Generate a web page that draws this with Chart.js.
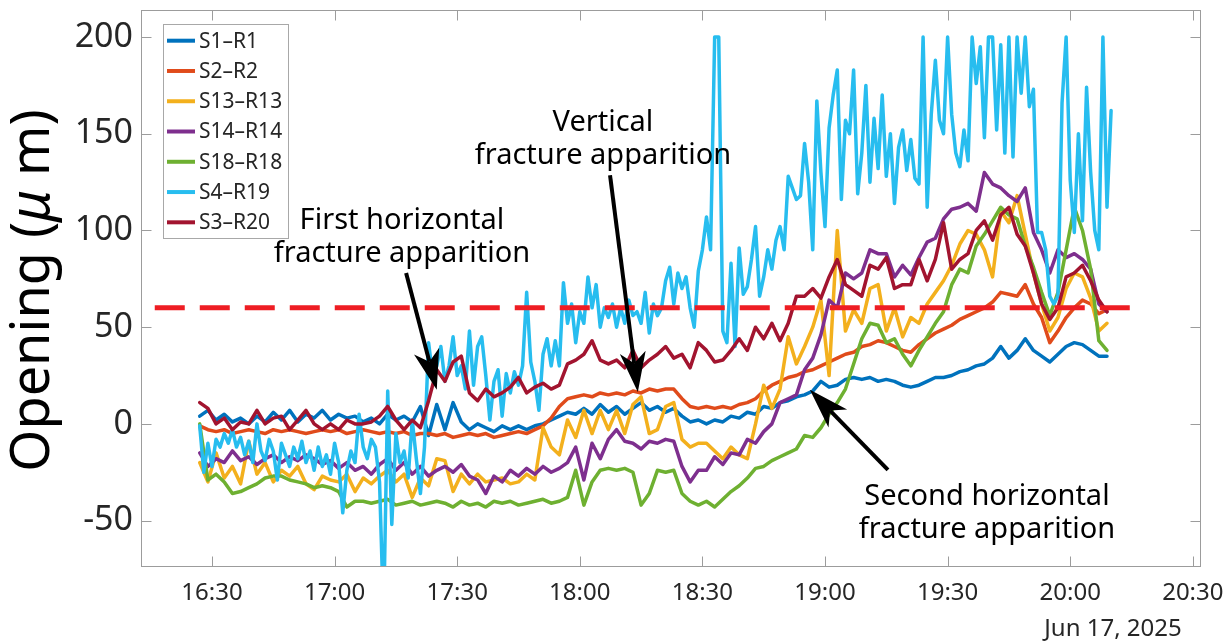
<!DOCTYPE html>
<html lang="en">
<head>
<meta charset="utf-8">
<title>Opening vs time</title>
<script src="https://cdn.jsdelivr.net/npm/chart.js@4.4.1/dist/chart.umd.min.js"></script>
<style>
  html, body { margin: 0; padding: 0; background: #ffffff; }
  #frame { position: relative; width: 1231px; height: 643px; }
</style>
</head>
<body>
<div id="frame"><canvas id="chart"></canvas></div>
<script>
// ---- sampling ---------------------------------------------------------------
const sampleStart = '16:27';   // first logged sample
const slowStepMin = 2;          // S1, S2, S3, S13, S14, S18 pairs
const fastStepMin = 1;          // S4-R19 pair

// ---- axes -------------------------------------------------------------------
const xTickLabels = ['16:30', '17:00', '17:30', '18:00', '18:30', '19:00', '19:30', '20:00', '20:30'];
const xRange = ['16:12:38', '20:32:00'];
const yTickValues = [-50, 0, 50, 100, 150, 200];
const yRange = [-74, 214];
const dateLabel = 'Jun 17, 2025';
const yTitleParts = ['Opening (', '\u03bc', ' m)'];

// ---- threshold --------------------------------------------------------------
const thresholdValue = 60;
const thresholdSpan = ['16:16', '20:15'];

// ---- series -----------------------------------------------------------------
const seriesNames = ['S1\u2013R1', 'S2\u2013R2', 'S13\u2013R13', 'S14\u2013R14', 'S18\u2013R18', 'S4\u2013R19', 'S3\u2013R20'];
const seriesColors = ['#0072BD', '#E04B1B', '#F3B01D', '#7E2F8E', '#6EB031', '#27BDEF', '#A2142F'];

// opening in micrometres, one value every 2 min from 16:27
const s1r1 = [
  4, 7, 2, 5, 1, 3, 0, 4, 1, 6,
  2, 7, 1, 5, 3, 7, 2, 5, 3, 4,
  1, 3, 0, 5, 2, 4, 1, 9, -6, 10,
  -3, 11, 1, -3, 0, -2, -4, -1, -3, -1,
  -3, -1, 0, 2, 4, 6, 5, 8, 5, 10,
  6, 9, 5, 8, 11, 7, 9, 6, 8, 4,
  1, 2, 0, 2, 1, 4, 3, 6, 5, 9,
  8, 11, 12, 14, 15, 17, 22, 19, 20, 23,
  24, 23, 24, 22, 23, 22, 20, 19, 20, 22,
  24, 24, 25, 27, 28, 30, 31, 34, 40, 34,
  38, 44, 38, 35, 32, 36, 40, 42, 41, 38,
  35, 35
];
const s2r2 = [
  -1, -3, -4, -3, -5, -4, -3, -4, -5, -3,
  -4, -3, -4, -5, -4, -3, -4, -3, -5, -4,
  -3, -4, -5, -4, -5, -4, -6, -5, -5, -6,
  -5, -7, -6, -5, -6, -5, -7, -6, -5, -4,
  -5, -3, -1, 3, 9, 13, 14, 15, 14, 16,
  15, 16, 15, 17, 16, 18, 17, 18, 18, 13,
  9, 8, 9, 8, 9, 8, 10, 11, 13, 17,
  20, 22, 24, 25, 27, 28, 30, 32, 34, 36,
  37, 40, 41, 43, 42, 40, 38, 37, 41, 44,
  47, 49, 51, 54, 56, 58, 60, 63, 68, 67,
  66, 72, 62, 55, 42, 48, 55, 60, 64, 62,
  57, 59
];
const s13r13 = [
  -20, -30, -15, -28, -22, -31, -9, -26, -20, -30,
  -24, -27, -22, -31, -34, -27, -29, -30, -26, -35,
  -28, -31, -27, -24, -30, -26, -38, -28, -32, -18,
  -19, -35, -26, -31, -26, -30, -29, -28, -31, -30,
  -26, -29, -2, -12, -16, 2, -7, 7, -5, 7,
  -3, 7, -5, 10, 14, -5, -3, 9, 11, -8,
  -12, -10, -10, -14, -18, -12, -16, -18, 0, 20,
  8, 18, 45, 31, 40, 50, 64, 25, 100, 48,
  59, 52, 70, 72, 48, 60, 45, 55, 52, 62,
  68, 74, 82, 93, 100, 98, 90, 76, 110, 104,
  118, 98, 78, 62, 48, 55, 70, 78, 76, 65,
  48, 52
];
const s14r14 = [
  -15, -22, -18, -20, -14, -19, -17, -21, -18, -16,
  -20, -17, -19, -16, -18, -21, -19, -23, -20, -24,
  -22, -26, -21, -18, -24, -20, -26, -22, -27, -24,
  -22, -25, -21, -27, -29, -36, -27, -30, -24, -27,
  -23, -26, -22, -25, -23, -20, -12, -29, -10, -18,
  -8, -3, -9, -10, -13, -9, -10, -8, -9, -22,
  -30, -24, -24, -17, -21, -15, -16, -8, -10, -4,
  0, 11, 13, 15, 28, 34, 46, 64, 60, 78,
  75, 78, 90, 88, 88, 76, 82, 77, 86, 94,
  96, 106, 111, 112, 114, 110, 130, 124, 122, 118,
  115, 122, 99, 90, 78, 90, 86, 88, 85, 80,
  62, 58
];
const s18r18 = [
  0, -29, -26, -30, -36, -35, -33, -31, -28, -27,
  -27, -29, -30, -31, -33, -32, -33, -35, -43, -40,
  -40, -41, -40, -39, -42, -41, -40, -42, -41, -40,
  -41, -43, -40, -42, -41, -43, -40, -41, -40, -42,
  -41, -40, -39, -41, -40, -38, -24, -42, -30, -24,
  -23, -24, -23, -25, -42, -36, -24, -25, -24, -36,
  -40, -42, -40, -43, -39, -35, -32, -28, -23, -22,
  -19, -17, -15, -13, -6, -7, -2, 5, 11, 18,
  31, 44, 52, 51, 42, 44, 36, 30, 38, 45,
  52, 58, 72, 80, 78, 92, 98, 105, 112, 108,
  106, 92, 81, 68, 56, 68, 90, 112, 100, 80,
  43, 38
];
const s3r20 = [
  11, 8, 0, 3, -3, 1, 0, 7, 0, 3,
  4, -3, 2, 7, 0, -3, 0, -3, 2, 0,
  0, 1, 4, 9, 2, -3, 2, -2, 12, 28,
  22, 32, 35, 16, 12, 18, 14, 16, 19, 24,
  16, 19, 21, 18, 20, 31, 33, 36, 43, 33,
  31, 33, 29, 38, 29, 33, 36, 40, 34, 36,
  29, 42, 38, 32, 33, 38, 44, 38, 50, 44,
  52, 43, 52, 66, 66, 70, 65, 76, 85, 72,
  69, 66, 82, 80, 86, 70, 72, 72, 85, 74,
  85, 104, 80, 85, 88, 100, 105, 95, 108, 112,
  98, 92, 78, 62, 54, 60, 76, 78, 82, 74,
  64, 58
];
// one value every minute from 16:27
const s4r19 = [
  -1, -25, -10, -22, -8, -12, -5, -10, -3, -12,
  -7, -16, -9, -20, 0, -14, -19, -8, -14, -29,
  -10, -16, -22, -12, -18, -9, -20, -14, -24, -12,
  -22, -16, -26, -10, -20, -46, -24, -14, -20, 5,
  -12, -18, -8, -12, -30, -100, 17, -52, -5, -20,
  -14, -28, 2, -18, -36, -12, 42, 25, 30, 40,
  22, 30, 45, 25, 30, 18, 48, 20, 40, 45,
  25, 2, 22, 28, 4, 26, 16, 27, 20, 30,
  68, 32, 22, 7, 36, 44, 30, 43, 30, 73,
  52, 62, 42, 58, 52, 76, 60, 72, 50, 60,
  55, 62, 50, 60, 52, 64, 56, 58, 52, 68,
  47, 62, 56, 60, 74, 81, 62, 78, 70, 76,
  60, 50, 79, 90, 107, 90, 200, 200, 48, 42,
  83, 40, 91, 67, 71, 85, 102, 66, 76, 90,
  80, 95, 102, 90, 128, 122, 116, 118, 145, 125,
  90, 167, 130, 102, 153, 170, 183, 116, 157, 150,
  183, 119, 140, 175, 125, 158, 132, 170, 128, 150,
  114, 143, 152, 131, 147, 127, 124, 200, 112, 160,
  188, 157, 150, 200, 160, 140, 133, 152, 136, 200,
  176, 195, 148, 200, 200, 152, 196, 140, 200, 138,
  200, 171, 200, 164, 173, 99, 99, 90, 66, 62,
  66, 166, 200, 126, 99, 150, 105, 174, 130, 100,
  90, 200, 112, 162
];

// ---- annotations ----------------------------------------------------------------
const noteLines = [
  ['First horizontal', 'fracture apparition'],
  ['Vertical', 'fracture apparition'],
  ['Second horizontal', 'fracture apparition']
];
const noteAnchors = [['17:16:29', 100.7], ['18:05:40', 151.3], ['19:39:38', -41.8]]; // first line, centre / baseline
const arrowTails = [['17:17:30', 78], ['18:07:24', 128.6], ['19:15:24', -23.8]];
const arrowTips = [['17:25:00', 17.6], ['18:14:12', 16.5], ['18:56:18', 17.6]];

// ---- helpers --------------------------------------------------------------------
const FONT = '"Noto Sans", "Open Sans", "DejaVu Sans", sans-serif';
const TEXT = '#262626';
const AXIS_GRAY = '#9C9C9C';
const LINE_W = 3.5;

function toMin(hm) {
  const p = hm.split(':').map(Number);
  return p[0] * 60 + p[1] + (p[2] || 0) / 60;
}
function fmtHM(m) {
  const h = Math.floor(m / 60), mm = Math.round(m - h * 60);
  return String(h).padStart(2, '0') + ':' + String(mm).padStart(2, '0');
}
function sampleTimes(n, step) {
  const t0 = toMin(sampleStart);
  return Array.from({ length: n }, (_, i) => t0 + i * step);
}
function points(values, step) {
  const t = sampleTimes(values.length, step);
  return values.map((v, i) => ({ x: t[i], y: v }));
}

const seriesValues = [s1r1, s2r2, s13r13, s14r14, s18r18, s4r19, s3r20];
const seriesSteps = [slowStepMin, slowStepMin, slowStepMin, slowStepMin, slowStepMin, fastStepMin, slowStepMin];

// later series sit on top: lower "order" is painted last
const datasets = seriesValues.map((vals, i) => ({
  label: seriesNames[i],
  data: points(vals, seriesSteps[i]),
  borderColor: seriesColors[i],
  backgroundColor: seriesColors[i],
  borderWidth: LINE_W,
  borderJoinStyle: 'round',
  borderCapStyle: 'round',
  pointRadius: 0,
  tension: 0,
  fill: false,
  order: seriesValues.length - i
}));
datasets.push({
  label: '',
  data: thresholdSpan.map(t => ({ x: toMin(t), y: thresholdValue })),
  borderColor: '#EE1D23',
  borderWidth: 5,
  borderDash: [30, 15],
  borderCapStyle: 'butt',
  pointRadius: 0,
  fill: false,
  order: 0
});

function drawArrow(ctx, x0, y0, x1, y1) {
  const dx = x1 - x0, dy = y1 - y0, len = Math.hypot(dx, dy);
  const ux = dx / len, uy = dy / len, px = -uy, py = ux;
  const L = 40, W = 13, N = 29;
  const bx = x1 - ux * L, by = y1 - uy * L;
  const nx = x1 - ux * N, ny = y1 - uy * N;
  ctx.beginPath();
  ctx.moveTo(x0, y0);
  ctx.lineTo(nx, ny);
  ctx.lineWidth = 4;
  ctx.lineCap = 'butt';
  ctx.stroke();
  ctx.beginPath();
  ctx.moveTo(x1, y1);
  ctx.lineTo(bx + px * W, by + py * W);
  ctx.lineTo(nx, ny);
  ctx.lineTo(bx - px * W, by - py * W);
  ctx.closePath();
  ctx.fill();
}

const decorations = {
  id: 'decorations',
  afterDraw(chart) {
    const { ctx, chartArea: a, scales: { x, y } } = chart;
    ctx.save();

    // axes box with inward ticks on all four sides
    const L = Math.round(a.left) + 0.5, R = Math.round(a.right) - 0.5;
    const T = Math.round(a.top) + 0.5, B = Math.round(a.bottom) - 0.5;
    ctx.strokeStyle = AXIS_GRAY;
    ctx.lineWidth = 1;
    ctx.strokeRect(L, T, R - L, B - T);
    const tl = 10;
    ctx.beginPath();
    x.ticks.forEach(t => {
      const px = Math.round(x.getPixelForValue(t.value)) + 0.5;
      ctx.moveTo(px, B); ctx.lineTo(px, B - tl);
      ctx.moveTo(px, T); ctx.lineTo(px, T + tl);
    });
    y.ticks.forEach(t => {
      const py = Math.round(y.getPixelForValue(t.value)) + 0.5;
      ctx.moveTo(L, py); ctx.lineTo(L + tl, py);
      ctx.moveTo(R, py); ctx.lineTo(R - tl, py);
    });
    ctx.stroke();

    // legend box
    const lg = { x: a.left + 22, y: a.top + 14, w: 125, h: 214, row: 30.27, first: 16.7 };
    ctx.fillStyle = '#ffffff';
    ctx.fillRect(lg.x, lg.y, lg.w, lg.h);
    ctx.strokeStyle = '#A8A8A8';
    ctx.strokeRect(Math.round(lg.x) + 0.5, Math.round(lg.y) + 0.5, lg.w, lg.h);
    ctx.font = '21px ' + FONT;
    ctx.textAlign = 'left';
    ctx.textBaseline = 'middle';
    chart.data.datasets.filter(d => d.label).forEach((d, i) => {
      const ry = lg.y + lg.first + i * lg.row;
      ctx.strokeStyle = d.borderColor;
      ctx.lineWidth = 4;
      ctx.beginPath();
      ctx.moveTo(lg.x + 4, ry);
      ctx.lineTo(lg.x + 32, ry);
      ctx.stroke();
      ctx.fillStyle = TEXT;
      ctx.fillText(d.label, lg.x + 36, ry + 1);
    });

    // annotations and arrows
    ctx.fillStyle = '#000000';
    ctx.strokeStyle = '#000000';
    ctx.font = '29px ' + FONT;
    ctx.textAlign = 'center';
    ctx.textBaseline = 'alphabetic';
    noteLines.forEach((lines, i) => {
      const cx = x.getPixelForValue(toMin(noteAnchors[i][0]));
      const cy = y.getPixelForValue(noteAnchors[i][1]);
      lines.forEach((s, k) => ctx.fillText(s, cx, cy + k * 33));
      drawArrow(ctx,
        x.getPixelForValue(toMin(arrowTails[i][0])), y.getPixelForValue(arrowTails[i][1]),
        x.getPixelForValue(toMin(arrowTips[i][0])), y.getPixelForValue(arrowTips[i][1]));
    });

    // date under the time axis
    ctx.fillStyle = TEXT;
    ctx.font = '24px ' + FONT;
    ctx.textAlign = 'center';
    ctx.fillText(dateLabel, a.right - 88, 636);

    // y-axis title with italic mu
    ctx.translate(49, (a.top + a.bottom) / 2 + 2);
    ctx.rotate(-Math.PI / 2);
    ctx.textAlign = 'left';
    ctx.textBaseline = 'alphabetic';
    const fonts = ['54px ' + FONT, 'italic 54px ' + FONT, '54px ' + FONT];
    let total = 0;
    const widths = yTitleParts.map((s, i) => { ctx.font = fonts[i]; const w = ctx.measureText(s).width; total += w; return w; });
    let cx = -total / 2;
    ctx.fillStyle = '#000000';
    yTitleParts.forEach((s, i) => { ctx.font = fonts[i]; ctx.fillText(s, cx, 0); cx += widths[i]; });

    ctx.restore();
  }
};

new Chart(document.getElementById('chart'), {
  type: 'line',
  data: { datasets },
  options: {
    responsive: true,
    maintainAspectRatio: false,
    animation: false,
    devicePixelRatio: 1,
    layout: { padding: { left: 0, right: 30, top: 10, bottom: 0 } },
    plugins: { legend: { display: false }, tooltip: { enabled: false } },
    scales: {
      x: {
        type: 'linear',
        min: toMin(xRange[0]),
        max: toMin(xRange[1]),
        grid: { display: false, drawTicks: false },
        border: { display: false },
        ticks: {
          font: { family: FONT, size: 24 },
          color: TEXT,
          padding: 12,
          autoSkip: false,
          maxRotation: 0,
          minRotation: 0,
          callback: v => fmtHM(v)
        },
        afterBuildTicks: s => { s.ticks = xTickLabels.map(t => ({ value: toMin(t) })); },
        afterFit: s => { s.height = 76; s.paddingLeft = 0; s.paddingRight = 0; }
      },
      y: {
        type: 'linear',
        min: yRange[0],
        max: yRange[1],
        grid: { display: false, drawTicks: false },
        border: { display: false },
        ticks: {
          font: { family: FONT, size: 34 },
          color: TEXT,
          padding: 8,
          callback: v => String(v)
        },
        afterBuildTicks: s => { s.ticks = yTickValues.map(v => ({ value: v })); },
        afterFit: s => { s.width = 141; s.paddingTop = 0; s.paddingBottom = 0; }
      }
    }
  },
  plugins: [decorations]
});
</script>
</body>
</html>
